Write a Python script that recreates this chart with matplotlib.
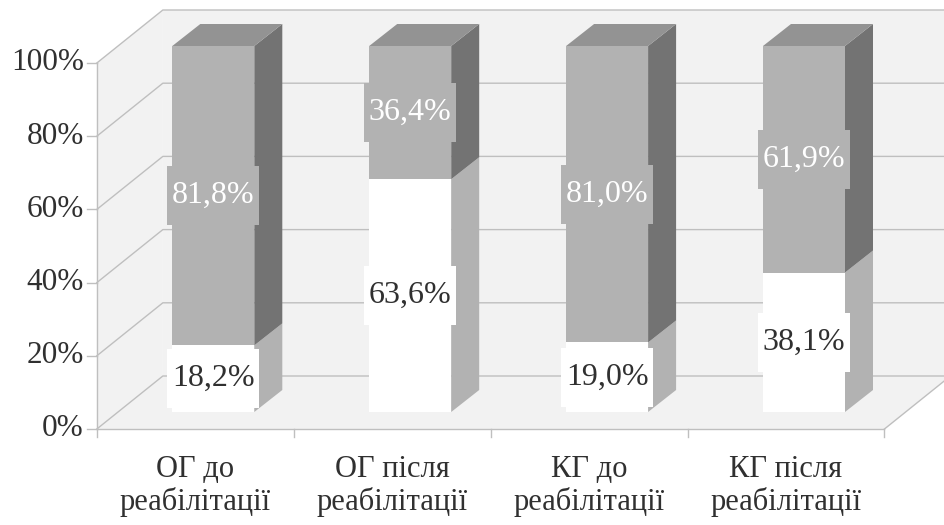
import matplotlib
matplotlib.use("Agg")
import matplotlib.pyplot as plt
from matplotlib.patches import Polygon, Rectangle

# ---- data ----
categories = ["ОГ до\nреабілітації", "ОГ після\nреабілітації",
              "КГ до\nреабілітації", "КГ після\nреабілітації"]
lower_vals = [18.2, 63.6, 19.0, 38.1]   # white segment
upper_vals = [81.8, 36.4, 81.0, 61.9]   # grey segment
y_ticks = [0, 20, 40, 60, 80, 100]
y_tick_labels = ["0%", "20%", "40%", "60%", "80%", "100%"]

# ---- styling ----
FONT = "Liberation Serif"
FS_TICK = 22.5
FS_CAT = 22
FS_VAL = 23
TEXT_DARK = "#303030"
GRID = "#BFBFBF"
WALL = "#F2F2F2"
UP_FRONT, UP_SIDE, UP_TOP = "#B2B2B2", "#737373", "#939393"
LO_FRONT, LO_SIDE = "#FFFFFF", "#B2B2B2"

W, H, DPI = 944, 525, 100
UX = 196.9      # pixels per category step
UY = 3.66       # pixels per percent
X0_PX = 213.3   # pixel column of the first bar centre
Y0_PX = 113.0   # pixel row (from bottom) of the bars' 0 %

# depth planes, given as pixel shifts (right, up) from the bars' front plane
FRONT = (-18, -17)
BACK = (48, 36)
BAR_DEPTH = (28, 22)

fig = plt.figure(figsize=(W / DPI, H / DPI), dpi=DPI)
ax = fig.add_axes([0, 0, 1, 1])
ax.set_xlim(-X0_PX / UX, (W - X0_PX) / UX)
ax.set_ylim(-Y0_PX / UY, (H - Y0_PX) / UY)
ax.axis("off")


def P(x, y, plane=(0, 0)):
    """Data coordinates of (x, y) pushed into a depth plane."""
    return (x + plane[0] / UX, y + plane[1] / UY)


xl, xr = -0.5, len(categories) - 0.5

# walls and floor
ax.add_patch(Polygon([P(xl, 0, FRONT), P(xl, 100, FRONT), P(xl, 100, BACK), P(xl, 0, BACK)],
                     closed=True, facecolor=WALL, edgecolor="none", zorder=1))
ax.add_patch(Polygon([P(xl, 0, BACK), P(xl, 100, BACK), P(xr, 100, BACK), P(xr, 0, BACK)],
                     closed=True, facecolor=WALL, edgecolor="none", zorder=1))
ax.add_patch(Polygon([P(xl, 0, FRONT), P(xr, 0, FRONT), P(xr, 0, BACK), P(xl, 0, BACK)],
                     closed=True, facecolor=WALL, edgecolor="none", zorder=1))

lw = 1.0
# gridlines across side wall and back wall
for t in y_ticks:
    pts = [P(xl, t, FRONT), P(xl, t, BACK), P(xr, t, BACK)]
    ax.plot([p[0] for p in pts], [p[1] for p in pts], color=GRID, lw=lw, zorder=2)

# frame edges
for a, b in [(P(xl, 0, FRONT), P(xl, 100, FRONT)),
             (P(xl, 0, FRONT), P(xr, 0, FRONT)),
             (P(xr, 0, FRONT), P(xr, 0, BACK)),
             (P(xr, 0, BACK), P(xr, 100, BACK))]:
    ax.plot([a[0], b[0]], [a[1], b[1]], color=GRID, lw=lw, zorder=2)

# y ticks and labels
for t, lab in zip(y_ticks, y_tick_labels):
    x, y = P(xl, t, FRONT)
    ax.plot([x - 10 / UX, x], [y, y], color=GRID, lw=lw, zorder=2)
    ax.text(x - 13 / UX, y, lab, ha="right", va="center", fontsize=FS_TICK,
            family=FONT, color=TEXT_DARK)

# x ticks and category labels
for k in range(len(categories) + 1):
    x, y = P(xl + k, 0, FRONT)
    ax.plot([x, x], [y, y - 8 / UY], color=GRID, lw=lw, zorder=2)
for i, cat in enumerate(categories):
    x, y = P(i, 0, FRONT)
    ax.text(x, y - 57 / UY, cat, ha="center", va="center", fontsize=FS_CAT,
            family=FONT, color=TEXT_DARK, linespacing=1.15)

# bars
xs = list(range(len(categories)))
bw = 82 / UX
ddx, ddy = BAR_DEPTH[0] / UX, BAR_DEPTH[1] / UY

ax.bar(xs, lower_vals, width=bw, color=LO_FRONT, linewidth=0, zorder=3)
ax.bar(xs, upper_vals, width=bw, bottom=lower_vals, color=UP_FRONT, linewidth=0, zorder=3)

for i, (lo, up) in enumerate(zip(lower_vals, upper_vals)):
    r = i + bw / 2
    l = i - bw / 2
    top = lo + up
    # side faces
    ax.add_patch(Polygon([(r, 0), (r + ddx, ddy), (r + ddx, lo + ddy), (r, lo)],
                         closed=True, facecolor=LO_SIDE, edgecolor="none", zorder=3))
    ax.add_patch(Polygon([(r, lo), (r + ddx, lo + ddy), (r + ddx, top + ddy), (r, top)],
                         closed=True, facecolor=UP_SIDE, edgecolor="none", zorder=3))
    # top face
    ax.add_patch(Polygon([(l, top), (r, top), (r + ddx, top + ddy), (l + ddx, top + ddy)],
                         closed=True, facecolor=UP_TOP, edgecolor="none", zorder=3))

# value labels
box_w, box_h = 92 / UX, 59 / UY


def label(x, y, value, face, txt):
    ax.add_patch(Rectangle((x - box_w / 2, y - box_h / 2), box_w, box_h,
                           facecolor=face, edgecolor="none", zorder=4))
    ax.text(x, y, f"{value:.1f}%".replace(".", ","), ha="center", va="center",
            fontsize=FS_VAL, family=FONT, color=txt, zorder=5)


for i, (lo, up) in enumerate(zip(lower_vals, upper_vals)):
    label(i, lo / 2, lo, LO_FRONT, TEXT_DARK)
    label(i, lo + up / 2, up, UP_FRONT, "#FFFFFF")

fig.savefig("out.png", dpi=DPI)
